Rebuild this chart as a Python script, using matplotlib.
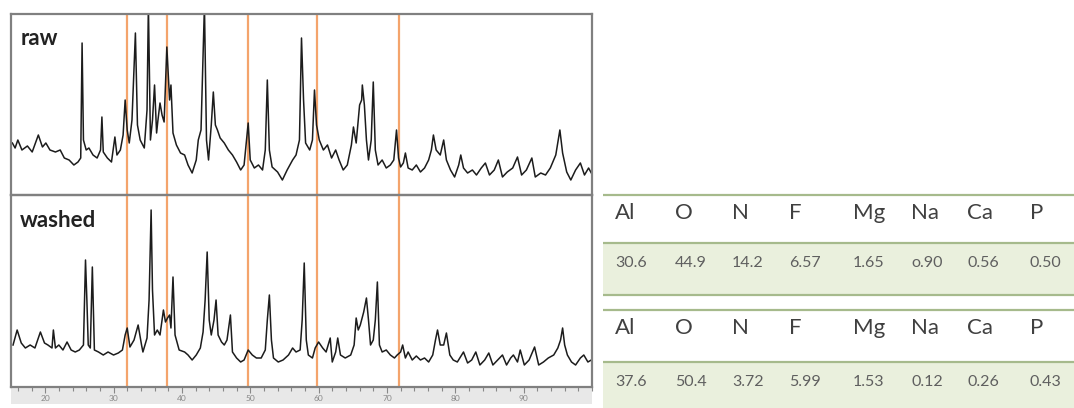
import matplotlib
matplotlib.use("Agg")
import matplotlib.pyplot as plt
from matplotlib.patches import Rectangle
from matplotlib.ticker import MultipleLocator

plt.rcParams["font.family"] = ["Lato", "DejaVu Sans"]

# XRD patterns (2-theta in degrees, intensity in arbitrary units)
raw_2theta = [15.2, 15.6, 16.0, 16.6, 17.4, 18.1, 19.0, 19.6, 20.1, 20.7, 21.5, 22.2, 22.8, 23.5,
              24.2, 24.8, 25.2, 25.4, 25.6, 26.0, 26.4, 27.0, 27.6, 28.1, 28.3, 28.5, 29.1, 29.7,
              30.2, 30.5, 31.0, 31.4, 31.7, 32.0, 32.3, 32.7, 33.2, 33.5, 33.9, 34.5, 34.9, 35.1,
              35.4, 35.7, 36.0, 36.3, 36.5, 36.8, 37.1, 37.4, 37.8, 38.2, 38.4, 38.7, 39.2, 39.8,
              40.4, 40.9, 41.5, 42.1, 42.4, 42.8, 43.3, 43.6, 43.9, 44.3, 44.6, 44.9, 45.2, 45.6,
              46.2, 46.8, 47.4, 48.0, 48.6, 49.1, 49.7, 50.0, 50.6, 51.2, 51.8, 52.2, 52.5, 52.8,
              53.2, 54.0, 54.7, 55.4, 56.2, 56.7, 57.2, 57.5, 57.8, 58.1, 58.7, 59.1, 59.4, 59.7,
              60.1, 60.7, 61.3, 61.9, 62.5, 63.0, 63.6, 64.2, 64.8, 65.1, 65.5, 66.0, 66.3, 66.4,
              66.7, 67.0, 67.3, 67.7, 68.0, 68.3, 68.7, 69.3, 69.9, 70.5, 71.0, 71.4, 71.7, 72.0,
              72.4, 72.7, 73.1, 73.7, 74.3, 74.9, 75.5, 76.1, 76.5, 76.8, 77.2, 77.8, 78.3, 78.7,
              79.3, 79.9, 80.5, 80.8, 81.2, 81.8, 82.5, 83.1, 83.8, 84.4, 85.0, 85.7, 86.3, 86.9,
              87.6, 88.4, 89.1, 89.7, 90.4, 91.2, 91.7, 92.5, 93.2, 93.9, 94.7, 95.3, 95.7, 96.3,
              96.9, 97.6, 98.3, 98.9, 99.5, 99.9]
raw_counts = [52, 47, 55, 45, 49, 43, 60, 48, 52, 45, 43, 45, 37, 35,
              30, 33, 37, 152, 55, 45, 47, 40, 37, 45, 78, 43, 37, 33,
              58, 40, 45, 60, 95, 65, 52, 75, 162, 70, 55, 47, 85, 190,
              55, 75, 110, 62, 75, 92, 80, 73, 148, 95, 110, 62, 50, 42,
              40, 30, 22, 35, 55, 65, 190, 55, 35, 70, 103, 70, 65, 57,
              52, 45, 40, 33, 25, 30, 72, 35, 27, 30, 25, 45, 115, 45,
              28, 23, 15, 25, 35, 40, 55, 157, 95, 52, 45, 55, 105, 70,
              55, 45, 50, 37, 45, 35, 25, 30, 50, 68, 52, 90, 95, 110,
              90, 55, 35, 55, 113, 45, 30, 35, 27, 30, 35, 65, 37, 28,
              32, 42, 27, 25, 30, 23, 27, 35, 45, 60, 45, 40, 55, 35,
              25, 18, 30, 40, 27, 22, 25, 20, 27, 32, 20, 25, 35, 18,
              23, 27, 38, 20, 25, 37, 18, 22, 20, 27, 40, 65, 42, 23,
              15, 25, 32, 20, 27, 22]

washed_2theta = [15.3, 15.9, 16.5, 17.1, 17.8, 18.5, 19.3, 19.9, 20.4, 21.0, 21.2, 21.5, 22.0, 22.6,
                 23.2, 23.8, 24.4, 25.0, 25.6, 25.9, 26.1, 26.3, 26.6, 26.9, 27.2, 27.8, 28.5, 29.2,
                 30.0, 30.7, 31.3, 31.7, 32.0, 32.4, 33.0, 33.6, 34.1, 34.3, 34.9, 35.2, 35.5, 35.7,
                 36.0, 36.4, 36.8, 37.3, 37.6, 37.9, 38.2, 38.4, 38.7, 39.0, 39.6, 40.4, 40.9, 41.5,
                 42.1, 42.7, 43.1, 43.4, 43.7, 44.0, 44.3, 44.7, 45.0, 45.3, 45.8, 46.2, 46.6, 47.1,
                 47.4, 48.0, 48.6, 49.1, 49.7, 50.3, 50.9, 51.6, 52.2, 52.5, 52.8, 53.1, 53.4, 54.1,
                 54.8, 55.6, 56.2, 56.7, 57.3, 57.6, 57.9, 58.2, 58.5, 59.1, 59.5, 60.0, 60.6, 61.1,
                 61.7, 62.0, 62.5, 62.8, 63.2, 63.9, 64.7, 65.2, 65.5, 65.8, 66.1, 66.6, 67.0, 67.3,
                 67.6, 68.0, 68.3, 68.6, 68.9, 69.3, 69.9, 70.5, 71.1, 71.5, 72.0, 72.3, 72.7, 73.1,
                 73.7, 74.3, 74.9, 75.5, 76.1, 76.7, 77.1, 77.4, 77.8, 78.3, 78.7, 79.2, 79.7, 80.3,
                 81.2, 81.8, 82.4, 83.0, 83.6, 84.3, 84.9, 85.5, 86.2, 86.9, 87.5, 88.1, 88.5, 89.1,
                 89.5, 90.1, 90.8, 91.6, 92.2, 92.9, 93.6, 94.4, 95.0, 95.4, 95.7, 96.0, 96.4, 97.0,
                 97.6, 98.3, 98.8, 99.4, 99.9]
washed_counts = [42, 57, 44, 39, 42, 39, 55, 44, 42, 39, 57, 39, 42, 37,
                 45, 37, 35, 37, 42, 127, 87, 42, 39, 120, 37, 35, 32, 35,
                 32, 34, 37, 52, 59, 40, 47, 62, 42, 35, 49, 87, 177, 97,
                 52, 57, 52, 77, 65, 69, 72, 59, 110, 52, 37, 35, 32, 27,
                 32, 39, 55, 87, 135, 67, 52, 67, 87, 52, 45, 42, 47, 72,
                 35, 29, 25, 27, 37, 32, 29, 29, 37, 67, 92, 47, 29, 25,
                 27, 32, 39, 35, 37, 67, 124, 47, 32, 29, 39, 45, 39, 35,
                 49, 25, 35, 49, 32, 29, 32, 42, 69, 57, 62, 75, 89, 67,
                 42, 47, 67, 105, 42, 35, 37, 32, 29, 32, 35, 42, 29, 35,
                 27, 31, 27, 29, 25, 32, 47, 57, 42, 42, 54, 32, 27, 25,
                 35, 24, 27, 35, 22, 27, 34, 22, 27, 32, 22, 29, 32, 25,
                 37, 22, 27, 40, 22, 25, 29, 32, 39, 47, 59, 42, 32, 25,
                 22, 29, 32, 25, 27]

marker_2theta = [31.9, 37.8, 49.7, 59.7, 71.8]
pattern_labels = ["raw", "washed"]

# composition tables
elements = ["Al", "O", "N", "F", "Mg", "Na", "Ca", "P"]
raw_wt = ["30.6", "44.9", "14.2", "6.57", "1.65", "o.90", "0.56", "0.50"]
washed_wt = ["37.6", "50.4", "3.72", "5.99", "1.53", "0.12", "0.26", "0.43"]

W, H = 1074, 408
fig = plt.figure(figsize=(W / 100, H / 100), dpi=100)

frame_col = "#808080"
orange = "#f4a46c"

# light strip under the x axis
fig.add_artist(Rectangle((11 / W, 1 - 404 / H), 581 / W, 16 / H,
                         transform=fig.transFigure, facecolor="#e8e8e8",
                         edgecolor="none", zorder=0))

ax_top = fig.add_axes([11 / W, 1 - 195 / H, 581 / W, 181 / H])
ax_bot = fig.add_axes([11 / W, 1 - 387 / H, 581 / W, 192 / H])

for ax, tt, cc, lim, lab in [(ax_top, raw_2theta, raw_counts, 181, pattern_labels[0]),
                             (ax_bot, washed_2theta, washed_counts, 192, pattern_labels[1])]:
    for m in marker_2theta:
        ax.axvline(m, color=orange, lw=1.6, zorder=1)
    ax.plot(tt, cc, color="#1c1c1c", lw=1.1, zorder=2)
    ax.set_xlim(15, 100)
    ax.set_ylim(0, lim)
    ax.set_yticks([])
    for s in ax.spines.values():
        s.set_color(frame_col)
        s.set_linewidth(1.6)
    ax.text(0.016, 0.92, lab, transform=ax.transAxes, fontsize=16,
            fontweight="bold", color="#222222", va="top", ha="left")
    ax.set_facecolor("none")

ax_top.set_xticks([])
ax_bot.xaxis.set_major_locator(MultipleLocator(10))
ax_bot.xaxis.set_minor_locator(MultipleLocator(2))
ax_bot.set_xticks(range(20, 100, 10))
ax_bot.tick_params(axis="x", which="major", length=4, width=0.8, color="#888888",
                   labelsize=6, labelcolor="#888888", pad=2)
ax_bot.tick_params(axis="x", which="minor", length=3, width=0.8, color="#888888")

# tables on the right
tab = fig.add_axes([0, 0, 1, 1])
tab.set_xlim(0, W)
tab.set_ylim(H, 0)
tab.axis("off")

col_x = [615, 675, 732, 789, 853, 911, 967, 1030]
line_col = "#a6ba8c"
fill_col = "#eaf0dd"
x0, x1 = 603, W

tables = [(raw_wt, 195, 243, 295), (washed_wt, 310, 362, 410)]
for values, top, mid, bot in tables:
    tab.fill_between([x0, x1], mid, bot, color=fill_col, lw=0, zorder=0)
    tab.hlines([top, mid, bot], x0, x1, color=line_col, lw=1.6, zorder=1)
    for cx, el, v in zip(col_x, elements, values):
        tab.text(cx, top + 18, el, fontsize=16, color="#404040", va="center", ha="left")
        tab.text(cx, mid + 20, v, fontsize=11.5, color="#5f5f5f", va="center", ha="left")

fig.savefig("out.png", dpi=100)
